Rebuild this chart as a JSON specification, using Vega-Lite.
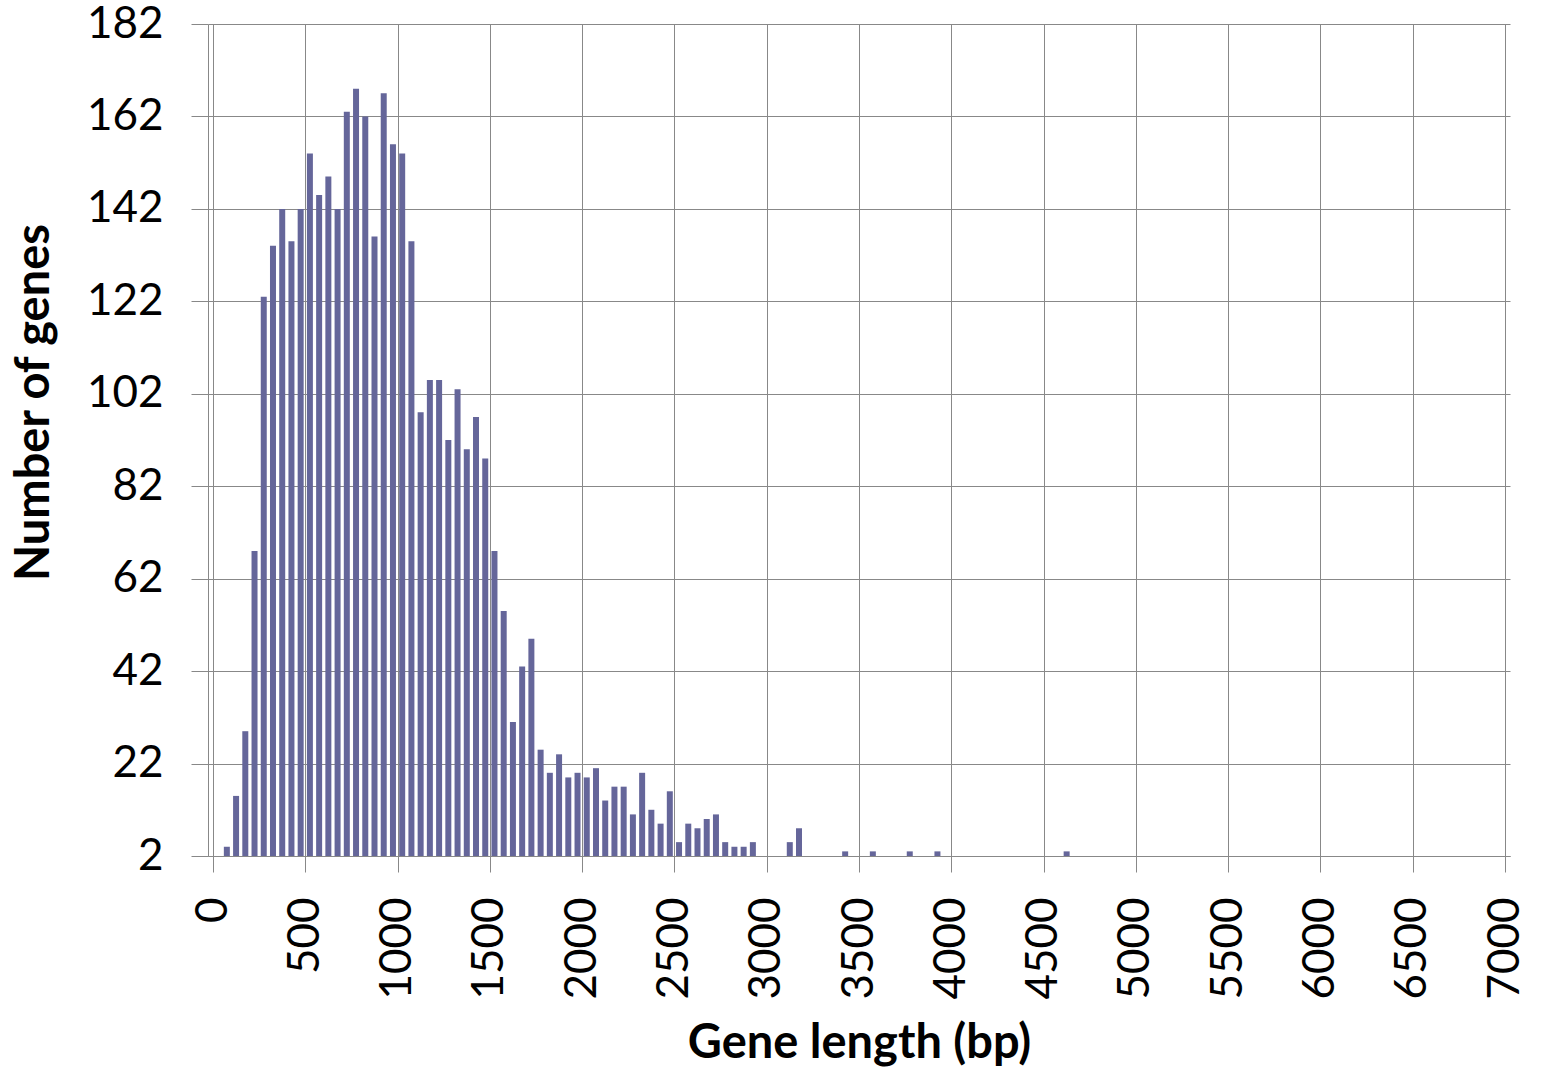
{
  "$schema": "https://vega.github.io/schema/vega-lite/v6.json",
  "width": 1302,
  "height": 832,
  "autosize": "none",
  "padding": {"left": 208, "top": 24, "right": 32, "bottom": 213},
  "background": "white",
  "config": {"view": {"stroke": null}, "font": "Lato"},
  "data": {"values": [
    {"len": 75, "n": 4}, {"len": 125, "n": 15}, {"len": 175, "n": 29}, {"len": 225, "n": 68},
    {"len": 275, "n": 123}, {"len": 325, "n": 134}, {"len": 375, "n": 142}, {"len": 425, "n": 135},
    {"len": 475, "n": 142}, {"len": 525, "n": 154}, {"len": 575, "n": 145}, {"len": 625, "n": 149},
    {"len": 675, "n": 142}, {"len": 725, "n": 163}, {"len": 775, "n": 168}, {"len": 825, "n": 162},
    {"len": 875, "n": 136}, {"len": 925, "n": 167}, {"len": 975, "n": 156}, {"len": 1025, "n": 154},
    {"len": 1075, "n": 135}, {"len": 1125, "n": 98}, {"len": 1175, "n": 105}, {"len": 1225, "n": 105},
    {"len": 1275, "n": 92}, {"len": 1325, "n": 103}, {"len": 1375, "n": 90}, {"len": 1425, "n": 97},
    {"len": 1475, "n": 88}, {"len": 1525, "n": 68}, {"len": 1575, "n": 55}, {"len": 1625, "n": 31},
    {"len": 1675, "n": 43}, {"len": 1725, "n": 49}, {"len": 1775, "n": 25}, {"len": 1825, "n": 20},
    {"len": 1875, "n": 24}, {"len": 1925, "n": 19}, {"len": 1975, "n": 20}, {"len": 2025, "n": 19},
    {"len": 2075, "n": 21}, {"len": 2125, "n": 14}, {"len": 2175, "n": 17}, {"len": 2225, "n": 17},
    {"len": 2275, "n": 11}, {"len": 2325, "n": 20}, {"len": 2375, "n": 12}, {"len": 2425, "n": 9},
    {"len": 2475, "n": 16}, {"len": 2525, "n": 5}, {"len": 2575, "n": 9}, {"len": 2625, "n": 8},
    {"len": 2675, "n": 10}, {"len": 2725, "n": 11}, {"len": 2775, "n": 5}, {"len": 2825, "n": 4},
    {"len": 2875, "n": 4}, {"len": 2925, "n": 5}, {"len": 3125, "n": 5}, {"len": 3175, "n": 8},
    {"len": 3425, "n": 3}, {"len": 3575, "n": 3}, {"len": 3775, "n": 3}, {"len": 3925, "n": 3},
    {"len": 4625, "n": 3}
  ]},
  "mark": {"type": "bar", "size": 6, "color": "#65669a"},
  "encoding": {
    "x": {
      "field": "len", "type": "quantitative",
      "scale": {"domain": [0, 7000], "nice": false, "zero": false},
      "axis": {
        "values": [0, 500, 1000, 1500, 2000, 2500, 3000, 3500, 4000, 4500, 5000, 5500, 6000, 6500, 7000],
        "format": "d",
        "labelAngle": -90, "labelFontSize": 44, "labelColor": "#000000", "labelPadding": 25,
        "labelFlush": false, "labelOverlap": false,
        "tickSize": 16, "tickColor": "#888888", "domainColor": "#888888",
        "grid": true, "gridColor": "#888888", "gridWidth": 1,
        "title": "Gene length (bp)", "titleFontSize": 47, "titleFontWeight": "bold",
        "titleColor": "#000000", "titlePadding": 21
      }
    },
    "y": {
      "field": "n", "type": "quantitative",
      "scale": {"domain": [2, 182], "nice": false, "zero": false},
      "axis": {
        "values": [2, 22, 42, 62, 82, 102, 122, 142, 162, 182],
        "format": "d",
        "labelFontSize": 44, "labelColor": "#000000", "labelPadding": 28,
        "labelFlush": false, "labelOverlap": false,
        "tickSize": 17, "tickColor": "#888888", "domainColor": "#888888",
        "grid": true, "gridColor": "#888888", "gridWidth": 1,
        "title": "Number of genes", "titleFontSize": 47, "titleFontWeight": "bold",
        "titleColor": "#000000", "titlePadding": 28, "titleY": 378
      }
    },
    "y2": {"datum": 2}
  }
}
